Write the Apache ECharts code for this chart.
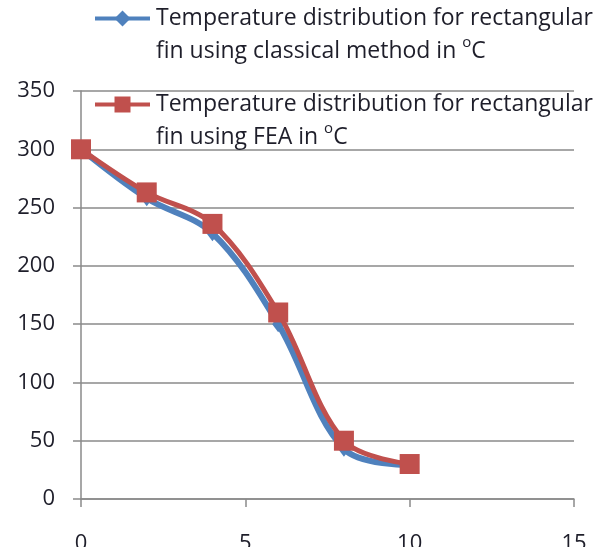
<!DOCTYPE html>
<html><head><meta charset="utf-8">
<script src="https://cdn.jsdelivr.net/npm/echarts@6/dist/echarts.min.js"></script>
<style>html,body{margin:0;padding:0;background:#fff}#c{width:605px;height:547px}</style>
</head><body><div id="c"></div>
<script>
var xValues = [0, 2, 4, 6, 8, 10];
var classical = [300, 258, 228, 150, 43, 29];
var fea = [300, 263, 236, 160, 50, 30];
var xTicks = [0, 5, 10, 15];
var yTicks = [0, 50, 100, 150, 200, 250, 300, 350];
var seriesNames = [
  'Temperature distribution for rectangular fin using classical method in oC',
  'Temperature distribution for rectangular fin using FEA in oC'
];
var legendLabels = {};
legendLabels[seriesNames[0]] = 'Temperature distribution for rectangular\nfin using classical method in {sup|o}C';
legendLabels[seriesNames[1]] = 'Temperature distribution for rectangular\nfin using FEA in {sup|o}C';

function pairs(xs, ys){ return xs.map(function(x,i){ return [x, ys[i]]; }); }

var FONT = '"Open Sans"';
var TXT = '#1e1e2a';
var chart = echarts.init(document.getElementById('c'));
chart.setOption({
  animation: false,
  backgroundColor: '#fff',
  grid: { left: 81, right: 31, top: 91, bottom: 48, containLabel: false, outerBoundsMode: 'none' },
  legend: {
    orient: 'vertical',
    left: 93,
    top: -31,
    padding: 0,
    itemGap: -13,
    itemWidth: 55,
    itemHeight: 20,
    selectedMode: false,
    lineStyle: { width: 4 },
    formatter: function(n){ return legendLabels[n]; },
    textStyle: {
      fontFamily: FONT, fontSize: 23, color: TXT, lineHeight: 33,
      padding: [33, 0, 0, 1],
      rich: { sup: { fontFamily: FONT, fontSize: 15, color: TXT, verticalAlign: 'top', lineHeight: 26 } }
    },
    data: seriesNames
  },
  xAxis: {
    type: 'value', min: 0, max: 15, interval: 5,
    axisLine: { show: true, lineStyle: { color: '#8a8a8a', width: 1.5 } },
    axisTick: { show: true, inside: false, length: 8, lineStyle: { color: '#8a8a8a', width: 1.5 } },
    splitLine: { show: false },
    axisLabel: { margin: 34, fontFamily: FONT, fontSize: 22, color: TXT,
      formatter: function(v){ return xTicks.indexOf(v) >= 0 ? String(v) : ''; } }
  },
  yAxis: {
    type: 'value', min: 0, max: 350, interval: 50,
    axisLine: { show: true, lineStyle: { color: '#8a8a8a', width: 1.5 } },
    axisTick: { show: true, inside: false, length: 8, lineStyle: { color: '#8a8a8a', width: 1.5 } },
    splitLine: { show: true, lineStyle: { color: '#8a8a8a', width: 1.5 } },
    axisLabel: { margin: 26, fontFamily: FONT, fontSize: 22, color: TXT,
      formatter: function(v){ return yTicks.indexOf(v) >= 0 ? String(v) : ''; } }
  },
  series: [
    {
      name: seriesNames[0], type: 'line', data: pairs(xValues, classical), smooth: 0.35,
      symbol: 'diamond', symbolSize: [12, 16],
      lineStyle: { color: '#4F81BD', width: 6 },
      itemStyle: { color: '#4F81BD' }, z: 2
    },
    {
      name: seriesNames[1], type: 'line', data: pairs(xValues, fea), smooth: 0.35,
      symbol: 'rect', symbolSize: 20,
      lineStyle: { color: '#C0504D', width: 5 },
      itemStyle: { color: '#C0504D' }, z: 3
    }
  ]
});
</script></body></html>
